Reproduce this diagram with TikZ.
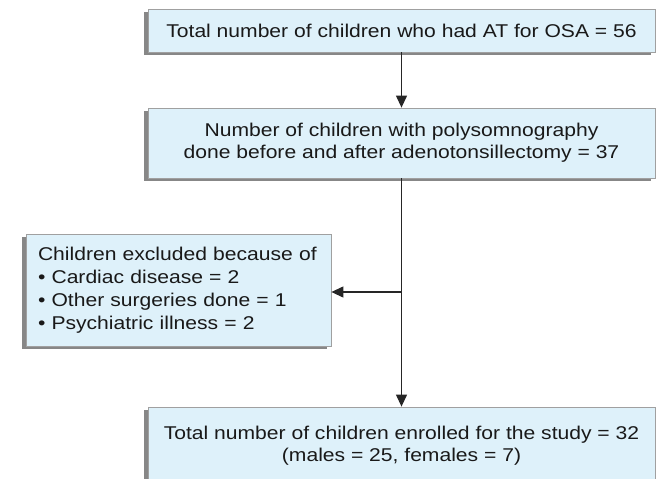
\documentclass[tikz,border=0pt]{standalone}
\usepackage{fontspec}
\setmainfont{Liberation Sans}[FakeStretch=1.14]
\usetikzlibrary{arrows.meta,shadows}
\definecolor{boxfill}{RGB}{222,241,250}
\definecolor{boxline}{RGB}{160,160,160}
\definecolor{shadowgray}{RGB}{135,135,135}
\definecolor{txt}{RGB}{25,25,25}
\begin{document}
\begin{tikzpicture}[x=1pt,y=-1pt,
  flowbox/.style={draw=boxline, line width=0.8pt, fill=boxfill, text=txt,
    font=\fontsize{18.5}{22}\selectfont, align=center, inner sep=0pt,
    drop shadow={shadow xshift=-4.5pt, shadow yshift=-3pt, fill=shadowgray, opacity=1}},
  arr/.style={line width=1.2pt, draw=black!85, -{Triangle[length=12pt,width=11pt]}}
]
\useasboundingbox (0,0) rectangle (657,479);
\node[flowbox, minimum width=507pt, minimum height=43pt] (b1) at (401.5,30.5)
  {Total number of children who had AT for OSA = 56};
\node[flowbox, minimum width=507pt, minimum height=70pt] (b2) at (401.5,143)
  {Number of children with polysomnography\\done before and after adenotonsillectomy = 37};
\node[flowbox, minimum height=112pt, text width=281pt, inner xsep=12pt, align=left,
  font=\fontsize{18.5}{23}\selectfont] (b3) at (178.5,290)
  {Children excluded because of\\
   • Cardiac disease = 2\\
   • Other surgeries done = 1\\
   • Psychiatric illness = 2};
\node[flowbox, minimum width=507pt, minimum height=78pt] (b4) at (401.5,446)
  {\raisebox{8pt}{\begin{tabular}{@{}c@{}}Total number of children enrolled for the study = 32\\(males = 25, females = 7)\end{tabular}}};
\draw[arr] (b1.south) -- (b2.north);
\draw[arr] (b2.south) -- (b4.north);
\coordinate (j) at (b2.south |- 0,292);
\draw[arr] (j) -- (b3.east |- j);
\end{tikzpicture}
\end{document}
